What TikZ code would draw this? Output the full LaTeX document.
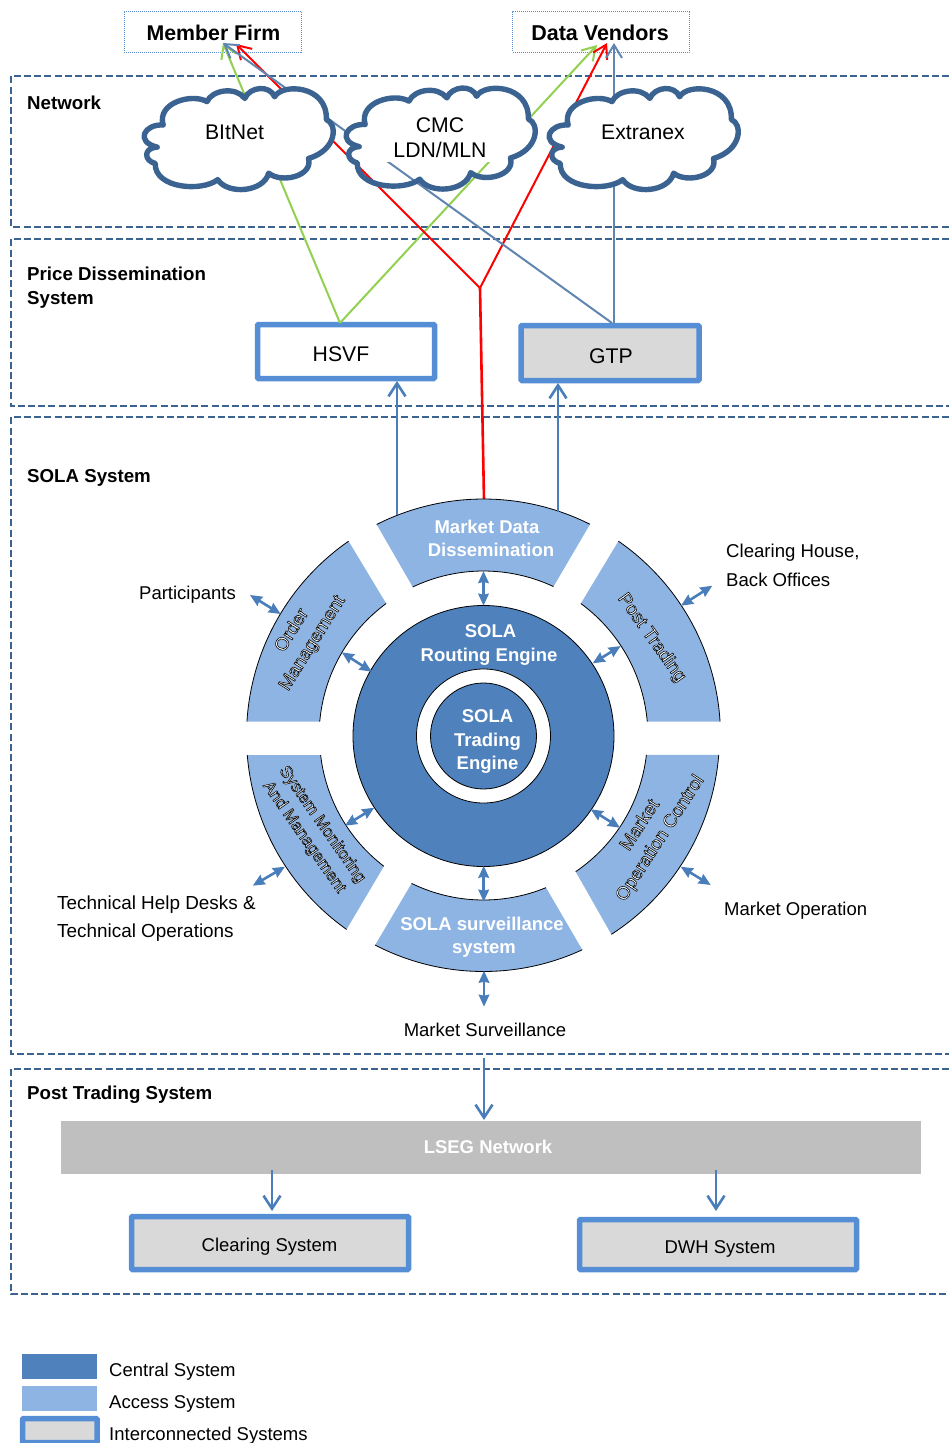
\documentclass[tikz,border=0pt]{standalone}
\usepackage{fontspec}
\setmainfont{Liberation Sans}
\usetikzlibrary{arrows.meta}
\definecolor{frameblue}{HTML}{3B6391}
\definecolor{central}{HTML}{4F81BD}
\definecolor{access}{HTML}{8EB4E3}
\definecolor{boxblue}{HTML}{558ED5}
\definecolor{boxgrey}{HTML}{D9D9D9}
\definecolor{barGrey}{HTML}{BFBFBF}
\definecolor{linkgreen}{HTML}{92D050}
\definecolor{linkgrey}{HTML}{6085B0}
\definecolor{linkblue}{HTML}{4A7EBB}
\newcommand{\outl}[1]{{\color{white}\special{pdf:code 0 0 0 RG 0.55 w 2 Tr}#1\special{pdf:code 0 Tr}}}
\newcommand{\cloudpath}{(-188,46) .. controls (-205,115) and (-115,145) .. (-78,118)
 .. controls (-65,155) and (-5,165) .. (17,128)
 .. controls (30,165) and (80,170) .. (92,133)
 .. controls (110,175) and (225,170) .. (222,63)
 .. controls (250,50) and (250,-30) .. (177,-57)
 .. controls (190,-110) and (110,-135) .. (77,-102)
 .. controls (65,-160) and (-25,-170) .. (-51,-122)
 .. controls (-90,-160) and (-210,-150) .. (-208,-72)
 .. controls (-235,-65) and (-240,-25) .. (-203,-22)
 .. controls (-260,-5) and (-235,50) .. (-188,46) -- cycle}
\newcommand{\ringseg}[6]{%
 \fill[access] (#2:#1) arc[start angle=#2,end angle=#3,radius=#1] -- (#6:#4) arc[start angle=#6,end angle=#5,radius=#4] -- cycle;
 \draw[black,line width=0.8pt] (#2:#1) arc[start angle=#2,end angle=#3,radius=#1];
 \draw[black,line width=0.8pt] (#5:#4) arc[start angle=#5,end angle=#6,radius=#4];}
\tikzset{
 frame/.style={draw=frameblue,line width=2.6pt,dash pattern=on 7pt off 3.2pt},
 dotbox/.style={draw=boxblue,line width=1pt,dash pattern=on 1pt off 1pt,minimum width=177pt,minimum height=41pt,inner sep=0pt},
 sysbox/.style={draw=boxblue,line width=5.5pt,inner sep=0pt,rounded corners=1pt},
 cloudline/.style={draw=frameblue,line width=5.4pt,line join=round},
 label18/.style={font=\fontsize{18.5}{24}\selectfont,text=black,inner sep=0pt},
 label21/.style={font=\fontsize{21.2}{25}\selectfont,text=black,inner sep=0pt},
 title/.style={font=\fontsize{18.7}{24}\selectfont\bfseries,text=black,inner sep=0pt,align=left},
 whitelabel/.style={font=\fontsize{18.5}{23.5}\selectfont\bfseries,text=white,inner sep=0pt,align=center},
 ringtext/.style={font=\fontsize{18.5}{24}\selectfont,inner sep=0pt,align=center},
 stick/.style={line width=#1,-{Straight Barb[length=13pt,width=16pt,line width=#1]}},
 stick/.default=2pt,
 dbl/.style={draw=linkblue,line width=2.6pt,{Stealth[length=12pt,width=10.5pt,inset=1pt]}-{Stealth[length=12pt,width=10.5pt,inset=1pt]}},
 updown/.style={draw=linkblue,line width=2.6pt,-{Straight Barb[length=13pt,width=17pt,line width=2.6pt]}},
}
\begin{document}
\begin{tikzpicture}[x=1pt,y=-1pt]
\useasboundingbox (0,0) rectangle (949,1443);
% frames
\draw[frame] (949,76) -- (11,76) -- (11,227) -- (949,227);
\draw[frame] (949,239) -- (11,239) -- (11,406) -- (949,406);
\draw[frame] (949,417) -- (11,417) -- (11,1054) -- (949,1054);
\draw[frame] (949,1069) -- (11,1069) -- (11,1294) -- (949,1294);
\node[title,anchor=west] (netTitle) at (27,103) {Network};
\node[title,anchor=west] (priceTitle) at (27,288) {Price Dissemination\\System};
\node[title,anchor=west] (solaTitle) at (27,478) {SOLA System};
\node[title,anchor=west] (postTitle) at (27,1095) {Post Trading System};
% top boxes
\node[dotbox] (firm) at (212.5,31.5) {};
\node[dotbox] (vendors) at (601,31.5) {};
\node[font=\fontsize{21.3}{25}\selectfont\bfseries,inner sep=0pt] (firmText) at (213.5,32.5) {Member Firm};
\node[font=\fontsize{21.5}{25}\selectfont\bfseries,inner sep=0pt] (vendorsText) at (600,32.5) {Data Vendors};
% system boxes
\node[sysbox,fill=white,minimum width=177pt,minimum height=54pt] (hsvf) at (346,351.5) {};
\node[sysbox,fill=boxgrey,minimum width=178pt,minimum height=55pt] (gtp) at (610,353) {};
\node[label21] (hsvfText) at (341,354) {HSVF};
\node[label21] (gtpText) at (611,356) {GTP};
% junctions and link ends
\coordinate (firmTipA) at (223,43);
\coordinate (firmTipB) at (236,44);
\coordinate (vendTipA) at (597,45);
\coordinate (vendTipB) at (607,43);
\coordinate (vendTipC) at (614,43);
\coordinate (hsvfTop) at (340,323);
\coordinate (gtpTopA) at (612,323);
\coordinate (gtpTopB) at (614,323);
\coordinate (redJoin) at (480,288);
\coordinate (redFoot) at (484,500);
% links
\draw[draw=linkgreen,stick] (hsvfTop) -- (firmTipA);
\draw[draw=linkgreen,stick] (hsvfTop) -- (vendTipA);
\draw[draw=red,line width=2.6pt] (redFoot) -- (redJoin);
\draw[draw=red,stick] (redJoin) -- (firmTipB);
\draw[draw=red,stick] (redJoin) -- (vendTipB);
\draw[draw=linkgrey,stick] (gtpTopA) -- (firmTipA);
\draw[draw=linkgrey,stick] (gtpTopB) -- (vendTipC);
% clouds
\draw[cloudline,fill=white,shift={(238,140)},x=0.398pt,y=0.325pt] \cloudpath;
\begin{scope}
\clip (330,60) rectangle (560,161.5);
\fill[white,shift={(440,139.5)},x=0.398pt,y=0.325pt] \cloudpath;
\end{scope}
\draw[cloudline,shift={(440,139.5)},x=0.398pt,y=0.325pt] \cloudpath;
\draw[cloudline,fill=white,shift={(643,140)},x=0.398pt,y=0.325pt] \cloudpath;
\node[label21] (bitnet) at (234.5,132) {BItNet};
\node[label21,align=center] (cmc) at (440,138) {CMC\\LDN/MLN};
\node[label21] (extranex) at (643,132) {Extranex};
% ring
\begin{scope}[shift={(483.5,736)},x=1pt,y=1pt]
\ringseg{237}{116.8}{63.3}{165}{115.4}{64.9}
\ringseg{237}{55.3}{3.46}{164.4}{53.7}{5}
\ringseg{237}{124.7}{176.54}{164.4}{126.3}{175}
\ringseg{237}{184.6}{234.7}{164}{186.7}{232.6}
\ringseg{236}{-4.6}{-57.2}{164}{-6.6}{-55.8}
\ringseg{235.5}{242.6}{294.8}{164}{244}{292.4}
\fill[central,draw=black,line width=0.8pt] (0,0) circle[radius=130.5];
\fill[white,draw=black,line width=0.8pt] (0,0) circle[radius=67];
\fill[central,draw=black,line width=0.8pt] (0,0) circle[radius=53];
\end{scope}
\node[whitelabel] (mdd) at (491,538.5) {Market Data\hspace*{8pt}\\Dissemination};
\node[whitelabel] (router) at (489,645) {\hspace*{3pt}SOLA\\Routing Engine};
\node[whitelabel] (trading) at (487.5,741.5) {SOLA\\Trading\\Engine};
\node[whitelabel] (surv) at (482,937) {SOLA surveillance\\\hspace*{4pt}system};
\node[ringtext,rotate=-54.5] (post) at (651.5,638) {\outl{Post Trading}};
\node[ringtext,rotate=58] (order) at (302.5,637) {\outl{Order}\\\outl{Management}};
\node[ringtext,rotate=-55,font=\fontsize{16.7}{22}\selectfont] (sysmon) at (313,831) {\outl{System Monitoring}\\\outl{And Management}};
\node[ringtext,rotate=57] (opctl) at (650.5,832) {\outl{Market}\\\outl{Operation Control}};
% outside labels
\node[label18,anchor=west] (participants) at (139,595) {Participants};
\node[label18,anchor=west,align=left,font=\fontsize{18.6}{29}\selectfont] (clearing) at (726,565) {Clearing House,\\Back Offices};
\node[label18,anchor=west,align=left,font=\fontsize{18.9}{28}\selectfont] (tech) at (57,919) {Technical Help Desks \&\\Technical Operations};
\node[label18,anchor=west] (marketop) at (724,911) {Market Operation};
\node[label18] (marketsurv) at (485,1030) {Market Surveillance};
% double arrows
\coordinate (a1) at (483.5,571); \coordinate (a2) at (483.5,605.7);
\coordinate (b1) at (250,595); \coordinate (b2) at (280.7,614);
\coordinate (c1) at (341.7,652.3); \coordinate (c2) at (371.7,671.7);
\coordinate (d1) at (620.7,646); \coordinate (d2) at (592.7,663.3);
\coordinate (e1) at (712.3,585.7); \coordinate (e2) at (681,605.7);
\coordinate (f1) at (374.3,807.7); \coordinate (f2) at (345,825.7);
\coordinate (g1) at (285,866.7); \coordinate (g2) at (252.7,885.7);
\coordinate (h1) at (590.7,809.3); \coordinate (h2) at (620,827.7);
\coordinate (i1) at (680.7,866.7); \coordinate (i2) at (710.7,885);
\coordinate (j1) at (483.7,865.7); \coordinate (j2) at (483.7,901.7);
\coordinate (k1) at (484,970.7); \coordinate (k2) at (484,1006.7);
\foreach \p in {a,b,c,d,e,f,g,h,i,j,k} \draw[dbl] (\p1) -- (\p2);
% up arrows
\coordinate (hsvfFoot) at (397,515); \coordinate (hsvfBase) at (397,381);
\coordinate (gtpFoot) at (558,512); \coordinate (gtpBase) at (558,383);
\draw[updown] (hsvfFoot) -- (hsvfBase);
\draw[updown] (gtpFoot) -- (gtpBase);
% post trading
\node[fill=barGrey,minimum width=860pt,minimum height=53pt,inner sep=0pt] (lseg) at (491,1147.5) {};
\node[whitelabel] (lsegText) at (488,1147) {LSEG Network};
\node[sysbox,fill=boxgrey,minimum width=277pt,minimum height=53pt] (clearsys) at (270,1243) {};
\node[sysbox,fill=boxgrey,minimum width=277pt,minimum height=50pt] (dwh) at (718,1244.5) {};
\node[label18] (clearsysText) at (269.5,1247) {Clearing System};
\node[label18] (dwhText) at (720,1249) {DWH System};
\coordinate (sA) at (484,1058); \coordinate (sB) at (484,1120);
\coordinate (lA) at (272,1170); \coordinate (lB) at (272,1211);
\coordinate (rA) at (716,1170); \coordinate (rB) at (716,1211);
\draw[updown] (sA) -- (sB);
\draw[updown] (lA) -- (lB);
\draw[updown] (rA) -- (rB);
% legend
\node[fill=central,minimum width=75pt,minimum height=25pt,inner sep=0pt] (legA) at (59.5,1366.5) {};
\node[fill=access,minimum width=75pt,minimum height=25pt,inner sep=0pt] (legB) at (59.5,1398.5) {};
\node[sysbox,fill=boxgrey,minimum width=74.5pt,minimum height=24pt] (legC) at (59.75,1430.5) {};
\node[label18,anchor=west] (legAText) at (109,1372) {Central System};
\node[label18,anchor=west] (legBText) at (109,1404) {Access System};
\node[label18,anchor=west] (legCText) at (109,1436) {Interconnected Systems};
\end{tikzpicture}
\end{document}
